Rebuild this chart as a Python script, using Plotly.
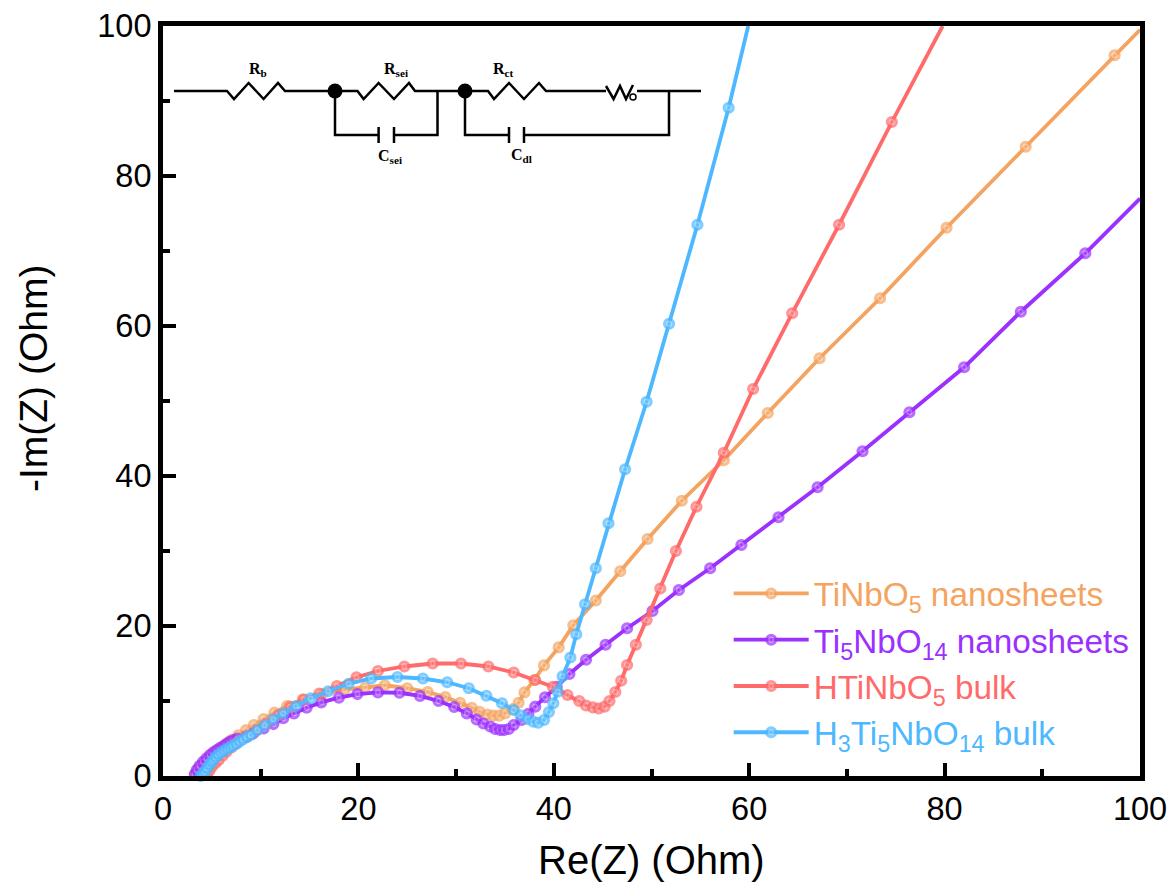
import plotly.graph_objects as go

OFF = 0
FIG_W, FIG_H = 1170, 884
PLOT_L, PLOT_R, PLOT_T, PLOT_B = 163, 1140, 26, 776

names = ["TiNbO<sub>5</sub> nanosheets", "Ti<sub>5</sub>NbO<sub>14</sub> nanosheets",
         "HTiNbO<sub>5</sub> bulk", "H<sub>3</sub>Ti<sub>5</sub>NbO<sub>14</sub> bulk"]
colors = ["#F4A460", "#9B30FF", "#FF6A6A", "#4DB8FF"]
highlights = ["#FFF4E8", "#F0E0FF", "#FFECEC", "#EAF8FF"]

orange_x = [3.0, 3.3, 3.6, 3.95, 4.3, 4.65, 5.0, 5.3, 5.65, 6.0, 6.35, 6.7, 7.0, 7.7, 8.5, 9.3, 10.3, 11.4, 12.7, 14.3, 16.3, 18.6, 20.7, 22.7,
            25.0, 27.1, 28.9, 30.4, 31.6, 32.4, 33.2, 33.8, 34.4, 35.0, 35.8, 36.4, 37.0, 38.0, 39.0, 40.5, 42.0,
            44.3, 46.8, 49.6, 53.1, 57.4, 61.9, 67.2, 73.4, 80.2, 88.3, 97.4, 100.0]
orange_y = [-0.5, 0.3, 1.0, 1.5, 1.9, 2.35, 2.8, 3.15, 3.47, 3.8, 4.13, 4.5, 4.8, 5.43, 6.13, 6.8, 7.6, 8.44, 9.33, 10.2, 10.93, 11.55, 11.8, 12.1,
            11.7, 11.2, 10.53, 9.77, 9.1, 8.57, 8.2, 8.04, 8.04, 8.35, 8.93, 9.77, 11.15, 12.8, 14.75, 17.15, 20.1,
            23.4, 27.3, 31.6, 36.7, 42.1, 48.4, 55.7, 63.7, 73.1, 83.9, 96.1, 99.5]

purple_x = [3.1, 3.25, 3.45, 3.75, 4.1, 4.45, 4.8, 5.15, 5.5, 5.85, 6.2, 6.5, 6.85, 7.2, 7.6, 8.5, 9.25, 10.3, 11.3, 12.3, 13.4, 14.7, 16.2, 18.0, 19.9, 22.0,
            24.2, 26.3, 28.2, 29.8, 31.1, 32.1, 32.8, 33.5, 34.0, 34.5, 34.9, 35.4, 35.9, 36.7, 37.4, 38.1, 39.1, 40.3,
            41.6, 43.3, 45.3, 47.5, 50.1, 52.8, 56.0, 59.2, 63.0, 67.0, 71.6, 76.4, 82.0, 87.8, 94.4, 100.0]
purple_y = [-0.5, 0.2, 0.8, 1.35, 1.9, 2.35, 2.8, 3.15, 3.47, 3.75, 4.0, 4.3, 4.57, 4.8, 5.0, 5.24, 5.7, 6.35, 6.93, 7.7, 8.35, 9.1, 9.82, 10.44, 10.93, 11.15,
            11.1, 10.67, 10.0, 9.2, 8.35, 7.55, 7.0, 6.6, 6.27, 6.13, 6.13, 6.27, 6.8, 7.47, 8.3, 9.25, 10.5, 11.9,
            13.6, 15.5, 17.5, 19.7, 22.0, 24.8, 27.7, 30.8, 34.5, 38.5, 43.3, 48.5, 54.5, 61.9, 69.7, 77.0]

red_x = [3.8, 4.1, 4.5, 4.75, 5.0, 5.35, 5.7, 6.1, 6.5, 7.0, 7.5, 8.6, 9.6, 10.6, 11.8, 13.0, 14.4, 16.0, 17.8, 19.8, 22.0,
         24.7, 27.6, 30.5, 33.3, 35.9, 38.1, 39.9, 41.4, 42.6, 43.3, 44.0, 44.6, 45.2, 45.7, 46.3, 46.9, 47.5,
         48.4, 49.5, 50.9, 52.5, 54.6, 57.4, 60.4, 64.4, 69.2, 74.6, 79.8]
red_y = [-0.8, -0.3, 0.13, 0.7, 1.24, 1.7, 2.13, 2.7, 3.24, 3.8, 4.36, 5.24, 6.13, 7.0, 8.13, 9.24, 10.2, 11.0, 12.0, 13.15, 14.0,
         14.6, 15.0, 15.0, 14.6, 13.8, 12.8, 11.9, 10.8, 10.0, 9.4, 9.15, 9.0, 9.25, 10.0, 11.2, 12.7, 14.8,
         17.5, 20.8, 25.0, 30.0, 35.9, 43.1, 51.6, 61.7, 73.5, 87.2, 100.0]

blue_x = [3.5, 3.6, 3.7, 3.85, 4.05, 4.3, 4.5, 4.75, 4.95, 5.15, 5.4, 5.65, 5.95, 6.25, 6.55, 6.85, 7.15, 7.5, 7.85, 8.2, 8.6, 9.0, 9.65, 10.4, 11.3, 12.3, 13.6, 15.1, 16.9, 19.0, 21.3,
          24.0, 26.6, 29.1, 31.3, 33.1, 34.7, 35.9, 36.6, 37.3, 37.9, 38.4, 39.0, 39.5, 39.95, 40.4, 40.9, 41.7, 42.3,
          43.2, 44.3, 45.6, 47.3, 49.5, 51.8, 54.7, 57.9, 59.9]
blue_y = [-0.7, -0.5, -0.3, 0.0, 0.3, 0.57, 1.05, 1.47, 1.85, 2.13, 2.5, 2.84, 3.1, 3.37, 3.6, 3.8, 4.05, 4.27, 4.6, 4.9, 5.2, 5.47, 6.1, 6.75, 7.55, 8.35, 9.33, 10.35, 11.3, 12.3, 13.0,
          13.2, 13.0, 12.5, 11.7, 10.7, 9.7, 8.8, 8.1, 7.6, 7.24, 7.1, 7.47, 8.53, 9.7, 11.25, 13.3, 15.8, 18.9,
          22.9, 27.7, 33.7, 40.9, 49.9, 60.3, 73.5, 89.1, 100.0]

series_x = [orange_x, purple_x, red_x, blue_x]
series_y = [orange_y, purple_y, red_y, blue_y]


def dx(px):
    return (px - PLOT_L) / (PLOT_R - PLOT_L) * 100


def dy(py):
    return (PLOT_B - py) / (PLOT_B - PLOT_T) * 100


fig = go.Figure()
for i in range(4):
    n = len(series_x[i])
    fig.add_trace(go.Scatter(
        x=series_x[i], y=series_y[i], name=f'<span style="color:{colors[i]}">{names[i]}</span>',
        mode="lines+markers", cliponaxis=False, legendgroup=str(i),
        line=dict(color=colors[i], width=3.8),
        marker=dict(size=[9] * (n - 1) + [0], color=highlights[i],
                    line=dict(width=[3.2] * (n - 1) + [0], color=colors[i]),
                    gradient=dict(type="radial", color=colors[i])),
    ))

# equivalent-circuit inset, pixel polylines
wires = [
    [(174, 91), (227, 91), (234, 99), (248.6, 83), (263.6, 99), (278, 83), (285, 91), (335, 91)],
    [(335, 91), (357.5, 91), (363.6, 99), (378.6, 83), (394, 99), (409, 83), (415, 91), (465, 91)],
    [(465, 91), (488, 91), (494, 99), (509, 83), (524, 99), (539, 83), (546, 91), (606, 91)],
    [(606, 86), (613.6, 99), (620, 86), (626, 99), (633, 85)],
    [(637, 91), (701, 91)],
    [(335, 91), (335, 135), (378.6, 135)], [(378.6, 127), (378.6, 143)],
    [(394, 127), (394, 143)], [(394, 135), (437.5, 135), (437.5, 91)],
    [(465, 91), (465, 135), (509, 135)], [(509, 127), (509, 143)],
    [(524, 127), (524, 143)], [(524, 135), (669, 135), (669, 91)],
]
shapes = []
for w in wires:
    path = "M " + " L ".join(f"{dx(a):.3f},{dy(b):.3f}" for a, b in w)
    shapes.append(dict(type="path", path=path, xref="x", yref="y",
                       line=dict(color="black", width=2.5)))
for cx in (335, 465):
    shapes.append(dict(type="circle", xref="x", yref="y",
                       x0=dx(cx - 7.5), x1=dx(cx + 7.5), y0=dy(91 + 7.5), y1=dy(91 - 7.5),
                       fillcolor="black", line=dict(width=0)))
shapes.append(dict(type="circle", xref="x", yref="y",
                   x0=dx(630), x1=dx(636), y0=dy(100), y1=dy(94),
                   fillcolor="white", line=dict(width=1.5, color="black")))

labels = [("R<sub>b</sub>", 258, 69), ("R<sub>sei</sub>", 396, 69), ("R<sub>ct</sub>", 503, 69),
          ("C<sub>sei</sub>", 390, 156), ("C<sub>dl</sub>", 521, 155)]
annotations = [dict(text=f"<b>{t}</b>", x=dx(a), y=dy(b), xref="x", yref="y", showarrow=False,
                    font=dict(family="Liberation Serif", size=16, color="black"))
               for t, a, b in labels]
annotations += [
    dict(text="Re(Z) (Ohm)", x=dx(651) / 100, y=dy(860) / 100, xref="paper", yref="paper", showarrow=False,
         xanchor="center", yanchor="middle", font=dict(size=40, color="black")),
    dict(text="-Im(Z) (Ohm)", x=dx(33) / 100, y=dy(379) / 100, xref="paper", yref="paper", showarrow=False,
         xanchor="center", yanchor="middle", textangle=-90, font=dict(size=39, color="black")),
]

axis = dict(range=[0, 100], dtick=20, tick0=0, ticks="inside", ticklen=13, tickwidth=4, tickcolor="black",
            showline=True, linewidth=5, linecolor="black", mirror=True, showgrid=False, zeroline=False,
            automargin=False, ticklabeloverflow="allow",
            tickfont=dict(size=32.5, color="black"),
            minor=dict(dtick=10, ticks="inside", ticklen=7, tickwidth=4, tickcolor="black", showgrid=False))

fig.update_layout(
    width=FIG_W, height=FIG_H, autosize=False,
    margin=dict(l=PLOT_L - OFF, r=FIG_W - (PLOT_R - OFF), t=PLOT_T - OFF, b=FIG_H - (PLOT_B - OFF), pad=0),
    paper_bgcolor="white", plot_bgcolor="white",
    font=dict(family="Liberation Sans", color="black"),
    xaxis=axis, yaxis=axis,
    legend=dict(x=0.579, y=0.281, xanchor="left", yanchor="top", bgcolor="rgba(0,0,0,0)",
                font=dict(size=33.3), itemwidth=75, tracegroupgap=3, traceorder="normal"),
    shapes=shapes, annotations=annotations,
)
fig.write_html("out.html", default_width=f"{FIG_W}px", default_height=f"{FIG_H}px",
               config={"displayModeBar": False},
               post_script="document.body.style.margin='0';document.body.style.overflow='hidden';")
